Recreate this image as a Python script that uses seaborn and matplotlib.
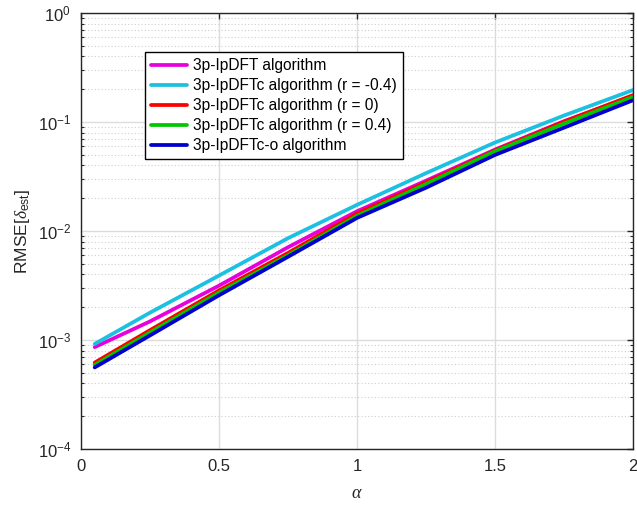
import numpy as np
import pandas as pd
import matplotlib
matplotlib.use("Agg")
import matplotlib.pyplot as plt
import seaborn as sns
from matplotlib.ticker import LogLocator, FixedLocator, NullFormatter, LogFormatterMathtext

# ---- data ----
alpha = [0.05, 0.25, 0.5, 0.75, 1.0, 1.25, 1.5, 1.75, 2.0]
rmse_lpdft = [8.6e-4, 1.48e-3, 3.15e-3, 7.1e-3, 1.52e-2, 2.9e-2, 5.6e-2, 1.02e-1, 1.74e-1]
rmse_c_m04 = [9.2e-4, 1.78e-3, 3.9e-3, 8.6e-3, 1.74e-2, 3.4e-2, 6.5e-2, 1.15e-1, 1.97e-1]
rmse_c_0 = [6.2e-4, 1.23e-3, 2.85e-3, 6.3e-3, 1.45e-2, 2.8e-2, 5.5e-2, 1.01e-1, 1.77e-1]
rmse_c_p04 = [5.9e-4, 1.17e-3, 2.72e-3, 6.0e-3, 1.38e-2, 2.7e-2, 5.4e-2, 9.7e-2, 1.70e-1]
rmse_co = [5.6e-4, 1.10e-3, 2.57e-3, 5.8e-3, 1.32e-2, 2.5e-2, 5.0e-2, 8.9e-2, 1.59e-1]

labels = ["3p-IpDFT algorithm",
          "3p-IpDFTc algorithm (r = -0.4)",
          "3p-IpDFTc algorithm (r = 0)",
          "3p-IpDFTc algorithm (r = 0.4)",
          "3p-IpDFTc-o algorithm"]
series = [rmse_lpdft, rmse_c_m04, rmse_c_0, rmse_c_p04, rmse_co]
colors = ["#E600DC", "#1CC0E0", "#FF0000", "#00C800", "#0000CC"]

x_ticks = [0, 0.5, 1, 1.5, 2]
x_tick_labels = ["0", "0.5", "1", "1.5", "2"]

df = pd.concat([pd.DataFrame({"alpha": alpha, "rmse": s, "algo": l})
                for s, l in zip(series, labels)], ignore_index=True)

sns.set_theme(style="white")
plt.rcParams["font.family"] = ["Liberation Sans", "DejaVu Sans"]
plt.rcParams["mathtext.fontset"] = "custom"
plt.rcParams["mathtext.rm"] = "Liberation Sans"
plt.rcParams["mathtext.it"] = "Liberation Serif:italic"
plt.rcParams["mathtext.bf"] = "Liberation Sans:bold"
plt.rcParams["axes.unicode_minus"] = False

fig = plt.figure(figsize=(6.37, 5.05), dpi=100)
ax = fig.add_axes([0.127, 0.111, 0.867, 0.863])

sns.lineplot(data=df, x="alpha", y="rmse", hue="algo", hue_order=labels,
             palette=colors, linewidth=2.7, ax=ax, sort=False)

ax.set_yscale("log")
ax.set_xlim(0, 2)
ax.set_ylim(1e-4, 1)

ax.xaxis.set_major_locator(FixedLocator(x_ticks))
ax.set_xticklabels(x_tick_labels)
ax.yaxis.set_major_locator(LogLocator(base=10, numticks=10))
ax.yaxis.set_major_formatter(LogFormatterMathtext())
ax.yaxis.set_minor_locator(LogLocator(base=10, subs=np.arange(2, 10), numticks=20))
ax.yaxis.set_minor_formatter(NullFormatter())

txt = "#262626"
ax.tick_params(axis="both", which="major", direction="in", length=4, width=1,
               colors="#262626", labelsize=12, top=True, right=True,
               labelcolor=txt, pad=7)
ax.tick_params(axis="y", which="minor", direction="in", length=2.5, width=0.8,
               colors="#262626", left=True, right=True)

ax.grid(True, which="major", color="#dcdcdc", linewidth=1.0, linestyle="-")
ax.grid(True, which="minor", axis="y", color="#cfcfcf", linewidth=0.8, linestyle=(0, (1, 2)))
ax.set_axisbelow(True)

for sp in ax.spines.values():
    sp.set_color("#262626")
    sp.set_linewidth(1.0)
    sp.set_visible(True)

ax.set_xlabel(r"$\alpha$", fontsize=13, color=txt, labelpad=8)
ax.set_ylabel(r"RMSE[$\delta_{\mathrm{est}}$]", fontsize=12.5, color=txt, labelpad=4)

leg = ax.legend(loc="upper left", bbox_to_anchor=(0.116, 0.911), fontsize=11.2,
                frameon=True, fancybox=False, framealpha=1, edgecolor="#000000",
                borderpad=0.4, labelspacing=0.32, handlelength=2.3, handletextpad=0.4,
                borderaxespad=0)
leg.get_frame().set_linewidth(1.0)
for t in leg.get_texts():
    t.set_color("#000000")

fig.savefig("out.png", dpi=100)
